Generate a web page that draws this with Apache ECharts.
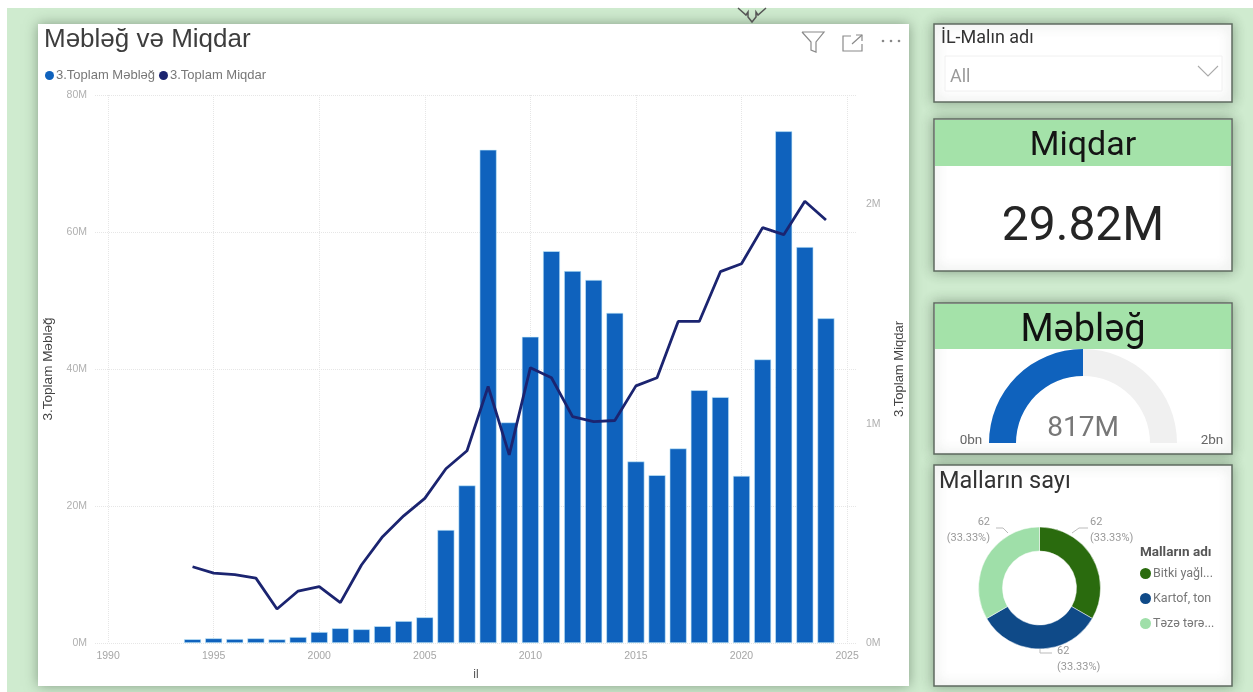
<!DOCTYPE html>
<html>
<head>
<meta charset="utf-8">
<style>html,body{margin:0;padding:0;background:#fff}#c{width:1253px;height:692px}</style>
<script src="https://cdn.jsdelivr.net/npm/echarts@6/dist/echarts.min.js"></script>
</head>
<body>
<div id="c"></div>
<script>
const years = [1994,1995,1996,1997,1998,1999,2000,2001,2002,2003,2004,2005,2006,2007,2008,2009,2010,2011,2012,2013,2014,2015,2016,2017,2018,2019,2020,2021,2022,2023,2024];
const mebleg = [0.55,0.68,0.58,0.68,0.53,0.87,1.6,2.15,2.0,2.45,3.2,3.75,16.5,23.0,72.0,32.2,44.7,57.2,54.3,53.0,48.2,26.5,24.5,28.4,36.9,35.9,24.4,41.4,74.7,57.8,47.4];
const miqdar = [0.348,0.319,0.312,0.296,0.155,0.237,0.257,0.184,0.356,0.485,0.58,0.66,0.795,0.877,1.17,0.858,1.256,1.21,1.033,1.01,1.015,1.173,1.21,1.467,1.467,1.694,1.73,1.895,1.863,2.015,1.93];
const yearTicks = [1990,1995,2000,2005,2010,2015,2020,2025];
const seriesNames = ['3.Toplam Məbləğ','3.Toplam Miqdar'];
const goodsNames = ['Bitki yağl...','Kartof, ton','Təzə tərə...'];
const goodsCounts = [62,62,62];
const gaugeValue = 817;
const gaugeMax = 1634;
const miqdarCard = '29.82M';

const BLUE='#0f62bd', NAVY='#1b2470';
const DIN='Roboto, "Open Sans", sans-serif';
const ARIAL='"Liberation Sans", Arial, sans-serif';

function rect(x,y,w,h,fill,extra){return Object.assign({type:'rect',shape:{x,y,width:w,height:h},style:{fill}},extra||{});}
function panel(x,y,w,h){return rect(x,y,w,h,'#fff',{style:{fill:'#fff',stroke:'#5f6b60',lineWidth:1.5,shadowBlur:12,shadowColor:'rgba(60,80,60,0.45)'}});}
function txt(t,x,y,font,size,fill,align,weight){return {type:'text',x,y,z:10,style:{text:t,font:(weight||'normal')+' '+size+'px '+font,fill,align:align||'left',verticalAlign:'middle'}};}
function pl(points,stroke,lw){return {type:'polyline',z:10,shape:{points},style:{stroke,fill:'none',lineWidth:lw||1}};}

const gfx=[
  rect(7,8,1246,684,'#cfebcf'),
  rect(38,24,871,662,'#fff',{style:{fill:'#fff',shadowBlur:12,shadowColor:'rgba(60,80,60,0.5)'}}),
  panel(934,24,298,78),
  panel(934,119,298,152),
  panel(934,303,298,151),
  panel(934,465,298,221),
  rect(935,120,296,46,'#a4e2a9'),
  rect(935,304,296,45,'#a4e2a9'),
  txt('Məbləğ və Miqdar',44,40,ARIAL,26,'#3d3d3d'),
  txt('İL-Malın adı',941,38,DIN,18,'#333'),
  {type:'rect',shape:{x:945,y:56,width:277,height:35},style:{fill:'#fff',stroke:'#f0f0f0',lineWidth:1}},
  txt('All',950,77,DIN,18,'#9a9a9a'),
  pl([[1198,66],[1208,76],[1218,66]],'#aaa',1.1),
  txt('Miqdar',1083,146,DIN,34,'#141414','center'),
  txt(miqdarCard,1083,228,DIN,48,'#252525','center'),
  txt('Məbləğ',1083,331,DIN,38,'#111','center'),
  txt('0bn',971,441,DIN,13.5,'#666','center'),
  txt('2bn',1212,441,DIN,13.5,'#666','center'),
  txt('Malların sayı',939,482,DIN,23.5,'#333'),
  txt('Malların adı',1140,553,DIN,13.5,'#555','left','bold'),
  // header icons
  pl([[802,32],[824,32],[816,42],[816,52],[811,50],[811,42],[802,32]],'#8a8a8a',1.2),
  pl([[851,36],[843,36],[843,51],[862,51],[862,44]],'#8a8a8a',1.2),
  pl([[852,44],[862,35]],'#8a8a8a',1.2),
  pl([[856,35],[862,35],[862,41]],'#8a8a8a',1.2),
  {type:'circle',z:10,shape:{cx:883,cy:41,r:1.3},style:{fill:'#888'}},
  {type:'circle',z:10,shape:{cx:891,cy:41,r:1.3},style:{fill:'#888'}},
  {type:'circle',z:10,shape:{cx:899,cy:41,r:1.3},style:{fill:'#888'}},
  // cursor
  pl([[738,8],[746,15],[748,12],[748,17],[752,22],[756,17],[756,12],[758,15],[766,8]],'#555',1.5)
];

const chart=echarts.init(document.getElementById('c'),null,{renderer:'canvas'});
const labelPos=[
  {x:1090,y:530,align:'left',pts:[[1072,533],[1079,528],[1088,528]]},
  {x:1057,y:659,align:'left',pts:[[1040,648],[1040,653],[1052,653]]},
  {x:990,y:530,align:'right',pts:[[1008,533],[1003,528],[996,528]]}
];
const goodsTotal=goodsCounts.reduce((a,b)=>a+b,0);
chart.setOption({
  animation:false,
  backgroundColor:'#fff',
  graphic:{elements:gfx},
  legend:[
    {data:seriesNames,left:40,top:64,icon:'circle',itemWidth:9,itemHeight:9,itemGap:4,itemStyle:{borderWidth:0},
     textStyle:{fontFamily:ARIAL,fontSize:13,color:'#777',padding:[0,0,0,-3]}},
    {data:goodsNames,orient:'vertical',left:1135,top:562,icon:'circle',itemWidth:11,itemHeight:11,itemGap:12,itemStyle:{borderWidth:0},
     textStyle:{fontFamily:DIN,fontSize:12.5,color:'#777',padding:[0,0,0,-3]}}
  ],
  grid:{left:95,right:396,top:95,bottom:49},
  xAxis:{type:'value',min:1989.38,max:2025.47,
    name:'il',nameLocation:'middle',nameGap:26,nameTextStyle:{fontFamily:ARIAL,fontSize:12,color:'#555'},
    axisLine:{show:false},
    axisTick:{show:false,customValues:yearTicks},
    axisLabel:{customValues:yearTicks,margin:8,fontFamily:ARIAL,fontSize:10.5,color:'#a6a6a6',formatter:v=>String(v)},
    splitLine:{show:true,lineStyle:{type:'dotted',color:'#e6e6e6'}}},
  yAxis:[
    {type:'value',min:0,max:80,interval:20,
     name:seriesNames[0],nameLocation:'middle',nameGap:32,nameTextStyle:{fontFamily:ARIAL,fontSize:13.5,color:'#444'},
     axisLine:{show:false},axisTick:{show:false},
     axisLabel:{margin:8,padding:[5,0,0,0],fontFamily:ARIAL,fontSize:10.5,color:'#b0b0b0',formatter:v=>v+'M'},
     splitLine:{show:true,lineStyle:{type:'dotted',color:'#e6e6e6'}}},
    {type:'value',min:0,max:2.5,interval:1,
     name:seriesNames[1],nameLocation:'middle',nameGap:36,nameTextStyle:{fontFamily:ARIAL,fontSize:13,color:'#444'},
     axisLine:{show:false},axisTick:{show:false},
     axisLabel:{margin:9,padding:[5,0,0,0],showMaxLabel:false,fontFamily:ARIAL,fontSize:10.5,color:'#b0b0b0',formatter:v=>v+'M'},
     splitLine:{show:false}}
  ],
  series:[
    {name:seriesNames[0],type:'bar',xAxisIndex:0,yAxisIndex:0,barWidth:17,
     itemStyle:{color:BLUE,borderColor:'#c9eefb',borderWidth:0.6},
     data:years.map((y,i)=>[y,mebleg[i]])},
    {name:seriesNames[1],type:'line',xAxisIndex:0,yAxisIndex:1,showSymbol:false,symbol:'none',
     lineStyle:{color:NAVY,width:2.8},itemStyle:{color:NAVY},
     data:years.map((y,i)=>[y,miqdar[i]])},
    {type:'gauge',center:[1083,443],radius:94,startAngle:180,endAngle:0,min:0,max:gaugeMax,
     pointer:{show:false},axisTick:{show:false},splitLine:{show:false},axisLabel:{show:false},title:{show:false},
     axisLine:{lineStyle:{width:27,color:[[1,'#f0f0f0']]}},
     progress:{show:true,width:27,itemStyle:{color:BLUE}},
     detail:{valueAnimation:false,offsetCenter:[0,-14],fontFamily:DIN,fontSize:28,fontWeight:'normal',color:'#777',formatter:v=>v+'M'},
     data:[{value:gaugeValue}]},
    {type:'pie',center:[1039.5,588],radius:[37,61],startAngle:90,clockwise:true,
     color:['#2a6b0e','#0f4a88','#9fdfa9'],
     itemStyle:{borderColor:'#fff',borderWidth:0.5},
     label:{show:true,formatter:p=>p.value+'\n('+(p.value/goodsTotal*100).toFixed(2)+'%)',fontFamily:DIN,fontSize:11,lineHeight:16,color:'#999'},
     labelLine:{show:true,lineStyle:{color:'#bbb',width:1}},
     labelLayout:p=>{const l=labelPos[p.dataIndex];return {x:l.x,y:l.y,align:l.align,verticalAlign:'middle',labelLinePoints:l.pts};},
     data:goodsNames.map((n,i)=>({name:n,value:goodsCounts[i]}))}
  ]
});
</script>
</body>
</html>
